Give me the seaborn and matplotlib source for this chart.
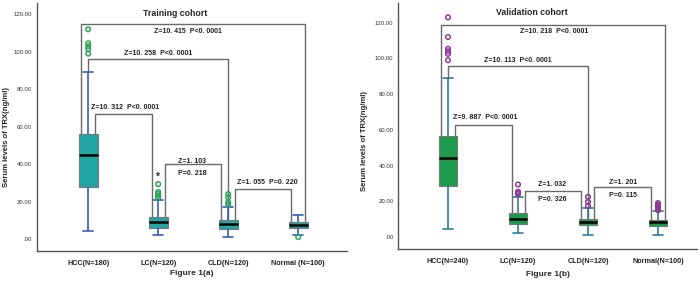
import pandas as pd
import matplotlib.pyplot as plt
import seaborn as sns
from matplotlib.ticker import FuncFormatter

# ---- data ----
groups_a = ['HCC(N=180)', 'LC(N=120)', 'CLD(N=120)', 'Normal (N=100)']
groups_b = ['HCC(N=240)', 'LC(N=120)', 'CLD(N=120)', 'Normal(N=100)']

# five-number summaries: whisker low, q1, median, q3, whisker high
hcc_a = [4.3, 28, 44.8, 56, 89]
lc_a = [2.1, 6.0, 9.1, 11.9, 20.8]
cld_a = [0.9, 5.2, 8.2, 10, 16.9]
normal_a = [2.1, 6.0, 7.5, 8.9, 13]

hcc_b = [4.3, 28.7, 44.3, 56.4, 89]
lc_b = [2.4, 7.3, 10.2, 13.2, 22.2]
cld_b = [1.1, 6.5, 8.3, 10.2, 16]
normal_b = [1.1, 6.3, 8.3, 9.5, 14.3]

outliers_a = [[99, 101.5, 103, 104.5, 112], [22, 23, 24, 25, 29.3], [18.5, 19.6, 22.2, 24], [1]]
extremes_a = [[], [33], [], []]
outliers_b = [[99, 102.6, 104, 105.4, 112, 123], [24, 24.6, 25.3, 29.4], [17.3, 19.7, 22.5],
              [15, 15.8, 16.6, 17.4, 18.2, 19]]

# test results: (group i, group j, bracket height, leg bottoms)
brackets_a = [(0, 3, 115, 56, 8.9), (0, 2, 96, 89, 10), (0, 1, 67, 56, 11.9),
              (1, 2, 40, 11.9, 10), (2, 3, 26.7, 10, 8.9)]
brackets_b = [(0, 3, 118.5, 56.4, 9.5), (0, 2, 96, 89, 10.2), (0, 1, 63, 56.4, 13.2),
              (1, 2, 25.7, 13.2, 10.2), (2, 3, 28, 10.2, 9.5)]
labels_a = [('Z=10. 415  P<0. 0001', 1.43, 111), ('Z=10. 258  P<0. 0001', 1.0, 99),
            ('Z=10. 312  P<0. 0001', 0.53, 70), ('Z=1. 103', 1.49, 41.5), ('P=0. 218', 1.49, 34.7),
            ('Z=1. 055  P=0. 220', 2.56, 30)]
labels_b = [('Z=10. 218  P<0. 0001', 1.51, 115), ('Z=10. 113  P<0. 0001', 1.0, 99),
            ('Z=9. 887  P<0. 0001', 0.53, 67), ('Z=1. 032', 1.49, 29.6), ('P=0. 326', 1.49, 21),
            ('Z=1. 201', 2.5, 30.7), ('P=0. 115', 2.5, 23)]

leg_offsets = [(-0.1, 0.1), (0, 0), (0.1, -0.09), (0.1, -0.1), (0.09, -0.1)]


def to_frame(stats):
    rows = []
    for pos, vals in enumerate(stats):
        for v in vals:
            rows.append({'pos': pos, 'val': v})
    return pd.DataFrame(rows)


def draw_panel(ax, stats, outliers, brackets, labels, groups, box_col, whisk_col, out_col,
               title, title_xy, xlabel, ylim, xlim):
    df = to_frame(stats)
    sns.boxplot(data=df, x='pos', y='val', native_scale=True, orient='x', ax=ax,
                width=0.27, whis=(0, 100), color=box_col, saturation=1, showfliers=False,
                boxprops=dict(edgecolor='#777777', linewidth=0.8),
                whiskerprops=dict(color=whisk_col, linewidth=1.2),
                capprops=dict(color=whisk_col, linewidth=1.2),
                medianprops=dict(color='black', linewidth=1.8))
    odf = to_frame(outliers)
    sns.scatterplot(data=odf, x='pos', y='val', ax=ax, marker='o', s=11,
                    facecolor='none', edgecolor=out_col, linewidth=1.1, zorder=5)

    for (i, j, h, lo_i, lo_j), (di, dj) in zip(brackets, leg_offsets):
        ax.plot([i + di, i + di, j + dj, j + dj], [lo_i, h, h, lo_j],
                color='#6a6a6a', lw=1.0, zorder=1)
    for txt, x, y in labels:
        ax.text(x, y, txt, ha='center', va='center', fontsize=5, fontweight='bold',
                color='#222222')

    ax.text(title_xy[0], title_xy[1], title, ha='center', va='center', fontsize=6.3,
            fontweight='bold')
    ax.set_xlim(xlim)
    ax.set_ylim(ylim)
    ax.set_xticks(range(len(groups)))
    ax.set_xticklabels(groups, fontsize=5.2, fontweight='bold')
    ax.set_yticks(range(0, 121, 20))
    ax.yaxis.set_major_formatter(FuncFormatter(lambda v, p: f'{v:.2f}'.lstrip('0') if v == 0 else f'{v:.2f}'))
    ax.tick_params(axis='y', labelsize=4.3, length=2.5, width=0.6, pad=1, colors='#333333')
    ax.tick_params(axis='x', length=2.5, width=0.6, pad=4, colors='#333333')
    for lab in ax.get_xticklabels():
        lab.set_color('#222222')
    ax.set_xlabel(xlabel, fontsize=6, fontweight='bold')
    ax.set_ylabel('Serum levels of TRX(ng/ml)', fontsize=5.6, fontweight='bold')
    for side in ['top', 'right']:
        ax.spines[side].set_visible(False)
    for side in ['left', 'bottom']:
        ax.spines[side].set_color('#555555')
        ax.spines[side].set_linewidth(1.0)


def main():
    sns.set_style('white')
    plt.rcParams['font.family'] = ['Liberation Sans', 'DejaVu Sans']

    fig = plt.figure(figsize=(7, 2.81), dpi=100)
    ax_a = fig.add_axes([0.053, 0.107, 0.443, 0.882])
    ax_b = fig.add_axes([0.569, 0.114, 0.427, 0.875])

    draw_panel(ax_a, [hcc_a, lc_a, cld_a, normal_a], outliers_a, brackets_a, labels_a, groups_a,
               '#1fa5a2', '#3a5cc0', '#2ea35a', 'Training cohort', (1.24, 120.5),
               'Figure 1(a)', (-6.4, 126), (-0.73, 3.7))
    for pos, vals in enumerate(extremes_a):
        for v in vals:
            ax_a.text(pos, v, '*', ha='center', va='center', fontsize=7, fontweight='bold')

    draw_panel(ax_b, [hcc_b, lc_b, cld_b, normal_b], outliers_b, brackets_b, labels_b, groups_b,
               '#1d9a4c', '#2f7f98', '#8e3a96', 'Validation cohort', (1.2, 126),
               'Figure 1(b)', (-6.7, 131), (-0.71, 3.56))

    ax_a.yaxis.set_label_coords(-0.088, 0.46)
    ax_b.yaxis.set_label_coords(-0.1, 0.44)
    ax_a.xaxis.set_label_coords(0.5, -0.075)
    ax_b.xaxis.set_label_coords(0.5, -0.088)

    fig.savefig('out.png', dpi=100)


if __name__ == "__main__":
    main()
